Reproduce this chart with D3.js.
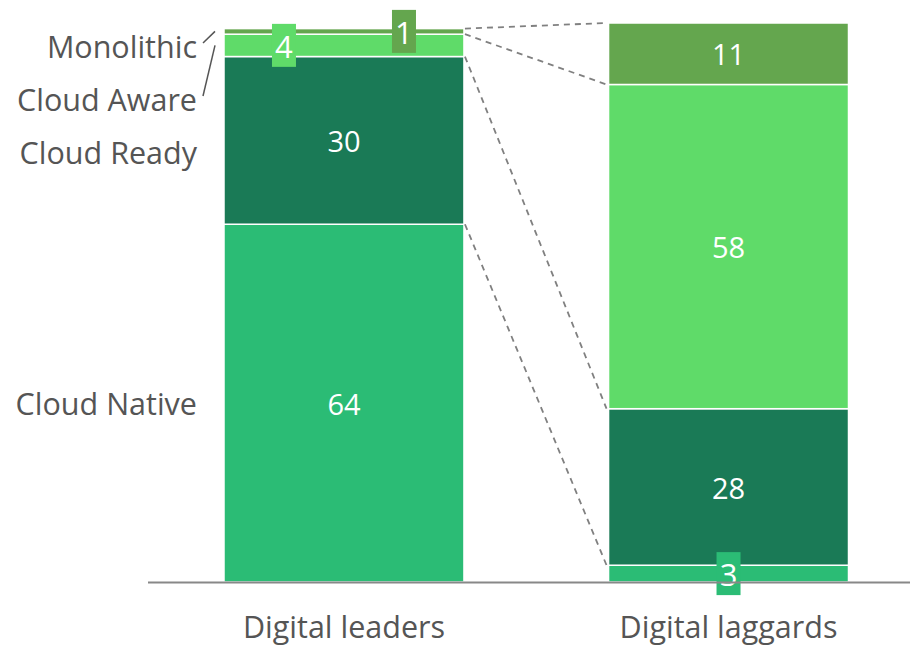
<!DOCTYPE html>
<meta charset="utf-8">
<style>
    body { margin: 0; background: #fff; }
    text { font-family: "Open Sans", sans-serif; }
</style>
<svg width="910" height="646"></svg>

<script src="https://d3js.org/d3.v7.min.js"></script>
<script>
    var categories = ["Digital leaders", "Digital laggards"],
        series = ["Cloud Native", "Cloud Ready", "Cloud Aware", "Monolithic"],
        values = {
            "Cloud Native": [64, 3],
            "Cloud Ready": [30, 28],
            "Cloud Aware": [4, 58],
            "Monolithic": [1, 11]
        },
        colors = ["#2bbc75", "#1a7a56", "#5fdb69", "#64a64e"];

    var svg = d3.select("svg"),
        width = +svg.attr("width"),
        BASE = 582,
        SMALL = 5,
        x = d3.scaleBand()
            .domain(categories)
            .range([224, 848.5])
            .paddingInner(0.376),
        y = d3.scaleLinear()
            .domain([0, 100])
            .range([BASE, 23]),
        color = d3.scaleOrdinal()
            .domain(series)
            .range(colors);

    var table = categories.map(function (c, i) {
        var row = {category: c};
        series.forEach(function (s) {
            row[s] = values[s][i];
        });
        return row;
    });

    var stacked = d3.stack().keys(series)(table);

    // bars
    var layer = svg.append("g").selectAll("g")
        .data(stacked)
        .join("g")
        .attr("fill", function (d) {
            return color(d.key);
        });

    layer.selectAll("rect")
        .data(function (d) {
            return d;
        })
        .join("rect")
        .attr("x", function (d) {
            return x(d.data.category);
        })
        .attr("y", function (d) {
            return y(d[1]);
        })
        .attr("width", x.bandwidth())
        .attr("height", function (d) {
            return y(d[0]) - y(d[1]);
        })
        .attr("stroke", "#fff")
        .attr("stroke-width", 1.5);

    // dashed connectors between the two bars
    var left = categories[0], right = categories[1],
        edges = [];
    stacked.forEach(function (s) {
        edges.push([s[0][1], s[1][1]]);
    });

    svg.append("g").selectAll("line")
        .data(edges)
        .join("line")
        .attr("x1", x(left) + x.bandwidth() + 1)
        .attr("y1", function (d) {
            return y(d[0]);
        })
        .attr("x2", x(right) - 2)
        .attr("y2", function (d) {
            return y(d[1]);
        })
        .attr("stroke", "#808080")
        .attr("stroke-width", 1.8)
        .attr("stroke-dasharray", "6,5");

    // value labels
    categories.forEach(function (c, ci) {
        var segs = stacked.map(function (s, si) {
            return {key: s.key, v: s[ci].data[s.key], y0: s[ci][0], y1: s[ci][1], i: si};
        });
        var small = segs.filter(function (d) {
            return d.v < SMALL;
        });
        var cx = x(c) + x.bandwidth() / 2;

        segs.forEach(function (d) {
            var cy = (y(d.y0) + y(d.y1)) / 2,
                k = small.indexOf(d),
                px = cx;
            if (k >= 0) {
                if (small.length > 1) px = cx + (k === 0 ? -60 : 60);
                svg.append("rect")
                    .attr("x", px - 12)
                    .attr("y", cy - 21.5)
                    .attr("width", 24)
                    .attr("height", 43)
                    .attr("fill", color(d.key));
            }
            svg.append("text")
                .attr("x", px)
                .attr("y", cy)
                .attr("dy", "0.4em")
                .attr("text-anchor", "middle")
                .attr("font-size", k >= 0 ? 31 : 29)
                .attr("fill", "#fff")
                .text(d.v);
        });
    });

    // series labels on the left
    var labels = stacked.map(function (s) {
        return {key: s.key, cy: (y(s[0][0]) + y(s[0][1])) / 2};
    }).reverse();
    var prev = -Infinity;
    labels.forEach(function (d, i) {
        d.ly = Math.max(d.cy, i === 0 ? 46 : prev + 53);
        prev = d.ly;
    });

    svg.append("g").selectAll("text")
        .data(labels)
        .join("text")
        .attr("x", 197)
        .attr("y", function (d) {
            return d.ly;
        })
        .attr("dy", "0.38em")
        .attr("text-anchor", "end")
        .attr("font-size", 30.5)
        .attr("fill", "#555")
        .text(function (d) {
            return d.key;
        });

    svg.append("g").selectAll("line")
        .data(labels.filter(function (d) {
            return d.ly - d.cy > 14;
        }))
        .join("line")
        .attr("x1", 203)
        .attr("y1", function (d) {
            return d.ly - 3;
        })
        .attr("x2", 215)
        .attr("y2", function (d) {
            return d.cy;
        })
        .attr("stroke", "#555")
        .attr("stroke-width", 1.5);

    // category axis
    var axis = svg.append("g")
        .attr("transform", "translate(0," + BASE + ")")
        .call(d3.axisBottom(x).tickSize(0).tickPadding(34));
    axis.select(".domain").remove();
    axis.selectAll("text")
        .attr("font-size", 30.5)
        .attr("font-family", "Open Sans, sans-serif")
        .attr("fill", "#555");

    svg.append("line")
        .attr("x1", 148)
        .attr("x2", width)
        .attr("y1", BASE + 0.5)
        .attr("y2", BASE + 0.5)
        .attr("stroke", "#888")
        .attr("stroke-width", 2);
</script>
